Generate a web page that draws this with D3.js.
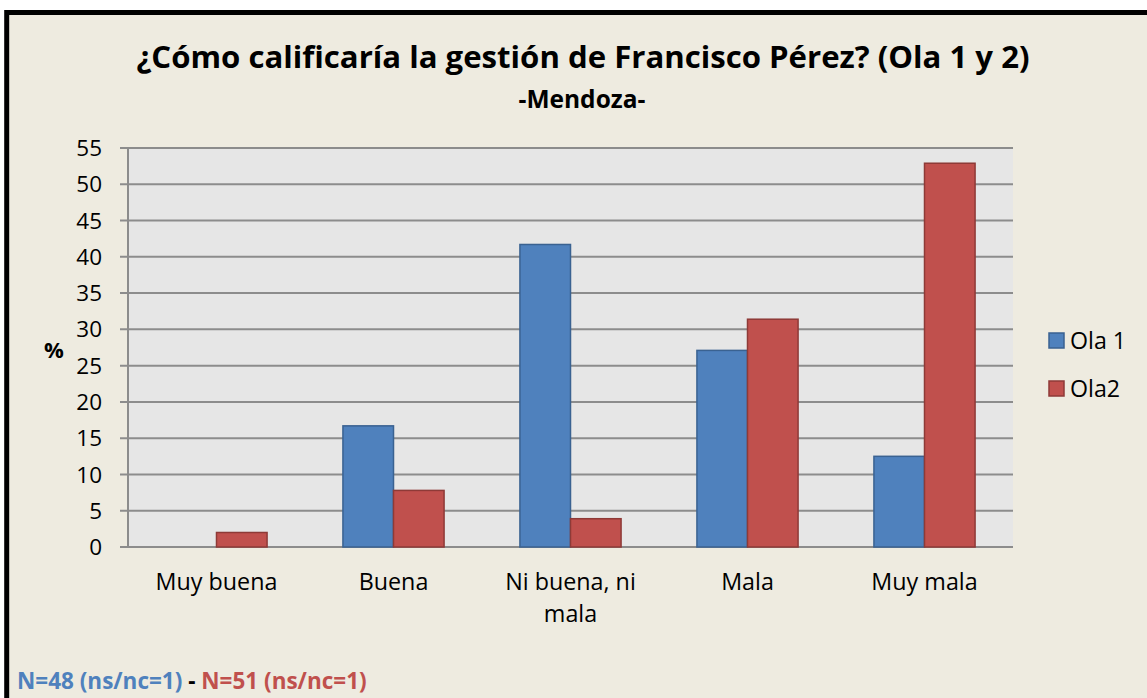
<!DOCTYPE html>
<html><head><meta charset="utf-8">
<script src="https://cdn.jsdelivr.net/npm/d3@7"></script>
<style>body{margin:0;background:#fff;} svg{display:block;} text{font-family:"Open Sans",Lato,sans-serif;}</style>
</head><body>
<svg id="c" width="1147" height="698"></svg>
<script>
const categories = ["Muy buena", "Buena", "Ni buena, ni mala", "Mala", "Muy mala"];
const categoryLines = [["Muy buena"], ["Buena"], ["Ni buena, ni", "mala"], ["Mala"], ["Muy mala"]];
const seriesNames = ["Ola 1", "Ola2"];
const ola1 = [0, 16.7, 41.7, 27.1, 12.5];
const ola2 = [2.0, 7.8, 3.9, 31.4, 52.9];
const yTicks = [0, 5, 10, 15, 20, 25, 30, 35, 40, 45, 50, 55];
const title = "¿Cómo calificaría la gestión de Francisco Pérez? (Ola 1 y 2)";
const subtitle = "-Mendoza-";
const footer1 = "N=48 (ns/nc=1)";
const footer2 = "N=51 (ns/nc=1)";

const fills = ["#4F81BD", "#C0504D"];
const strokes = ["#3A6291", "#8E3A37"];

const svg = d3.select("#c");
svg.append("rect").attr("x", 0).attr("y", 0).attr("width", 1147).attr("height", 698).attr("fill", "#fff");
svg.append("rect").attr("x", 6.7).attr("y", 12.5).attr("width", 1160).attr("height", 720)
  .attr("fill", "#EEEBE0").attr("stroke", "#000").attr("stroke-width", 5);

const m = {left: 128, right: 1013, top: 148, bottom: 547};
const x0 = d3.scaleBand().domain(categories).range([m.left, m.right]).paddingInner(0).paddingOuter(0);
const y = d3.scaleLinear().domain([0, 55]).range([m.bottom, m.top]);
const x1 = d3.scaleBand().domain(seriesNames).range([0, x0.bandwidth()]).paddingInner(0).paddingOuter(0.75);

svg.append("rect").attr("x", m.left).attr("y", m.top).attr("width", m.right - m.left).attr("height", m.bottom - m.top).attr("fill", "#E6E6E6");

// gridlines
svg.append("g").selectAll("line").data(yTicks).join("line")
  .attr("x1", m.left - 8).attr("x2", m.right).attr("y1", d => y(d)).attr("y2", d => y(d))
  .attr("stroke", "#8C8C8C").attr("stroke-width", 2);
svg.append("line").attr("x1", m.left).attr("x2", m.left).attr("y1", m.top).attr("y2", m.bottom)
  .attr("stroke", "#8C8C8C").attr("stroke-width", 2);

// y labels
svg.append("g").selectAll("text").data(yTicks).join("text")
  .attr("x", 102).attr("y", d => y(d)).attr("dy", "0.36em").attr("text-anchor", "end")
  .attr("font-size", 22.5).attr("fill", "#000").text(d => d);

svg.append("text").attr("x", 54).attr("y", 350).attr("dy", "0.36em").attr("text-anchor", "middle")
  .attr("font-size", 22).attr("font-weight", "bold").text("%");

// bars
const data = [ola1, ola2];
categories.forEach((c, i) => {
  seriesNames.forEach((s, j) => {
    const v = data[j][i];
    if (v <= 0) return;
    svg.append("rect")
      .attr("x", x0(c) + x1(s)).attr("y", y(v))
      .attr("width", x1.bandwidth()).attr("height", y(0) - y(v))
      .attr("fill", fills[j]).attr("stroke", strokes[j]).attr("stroke-width", 1.5);
  });
});

// x labels
categories.forEach((c, i) => {
  const cx = x0(c) + x0.bandwidth() / 2;
  const t = svg.append("text").attr("x", cx).attr("y", 590)
    .attr("text-anchor", "middle").attr("font-size", 23.3).attr("fill", "#000");
  categoryLines[i].forEach((ln, k) => {
    t.append("tspan").attr("x", cx).attr("dy", k === 0 ? 0 : 32).text(ln);
  });
});

// legend
seriesNames.forEach((s, j) => {
  const ly = 341 + j * 48;
  svg.append("rect").attr("x", 1049).attr("y", ly - 8).attr("width", 15).attr("height", 15)
    .attr("fill", fills[j]).attr("stroke", strokes[j]).attr("stroke-width", 1.5);
  svg.append("text").attr("x", 1070).attr("y", ly).attr("dy", "0.36em").attr("font-size", 23.2).text(s);
});

// title
svg.append("text").attr("x", 583).attr("y", 68).attr("text-anchor", "middle")
  .attr("font-size", 31).attr("font-weight", "bold").attr("textLength", 893).attr("lengthAdjust", "spacingAndGlyphs").text(title);
svg.append("text").attr("x", 582).attr("y", 108).attr("text-anchor", "middle")
  .attr("font-size", 24.5).attr("font-weight", "bold").text(subtitle);

// footer
const f = svg.append("text").attr("x", 17).attr("y", 689).attr("font-size", 22.5).attr("font-weight", "bold");
f.append("tspan").attr("fill", "#4F81BD").text(footer1);
f.append("tspan").attr("fill", "#000").text(" - ");
f.append("tspan").attr("fill", "#C0504D").text(footer2);
</script>
</body></html>
